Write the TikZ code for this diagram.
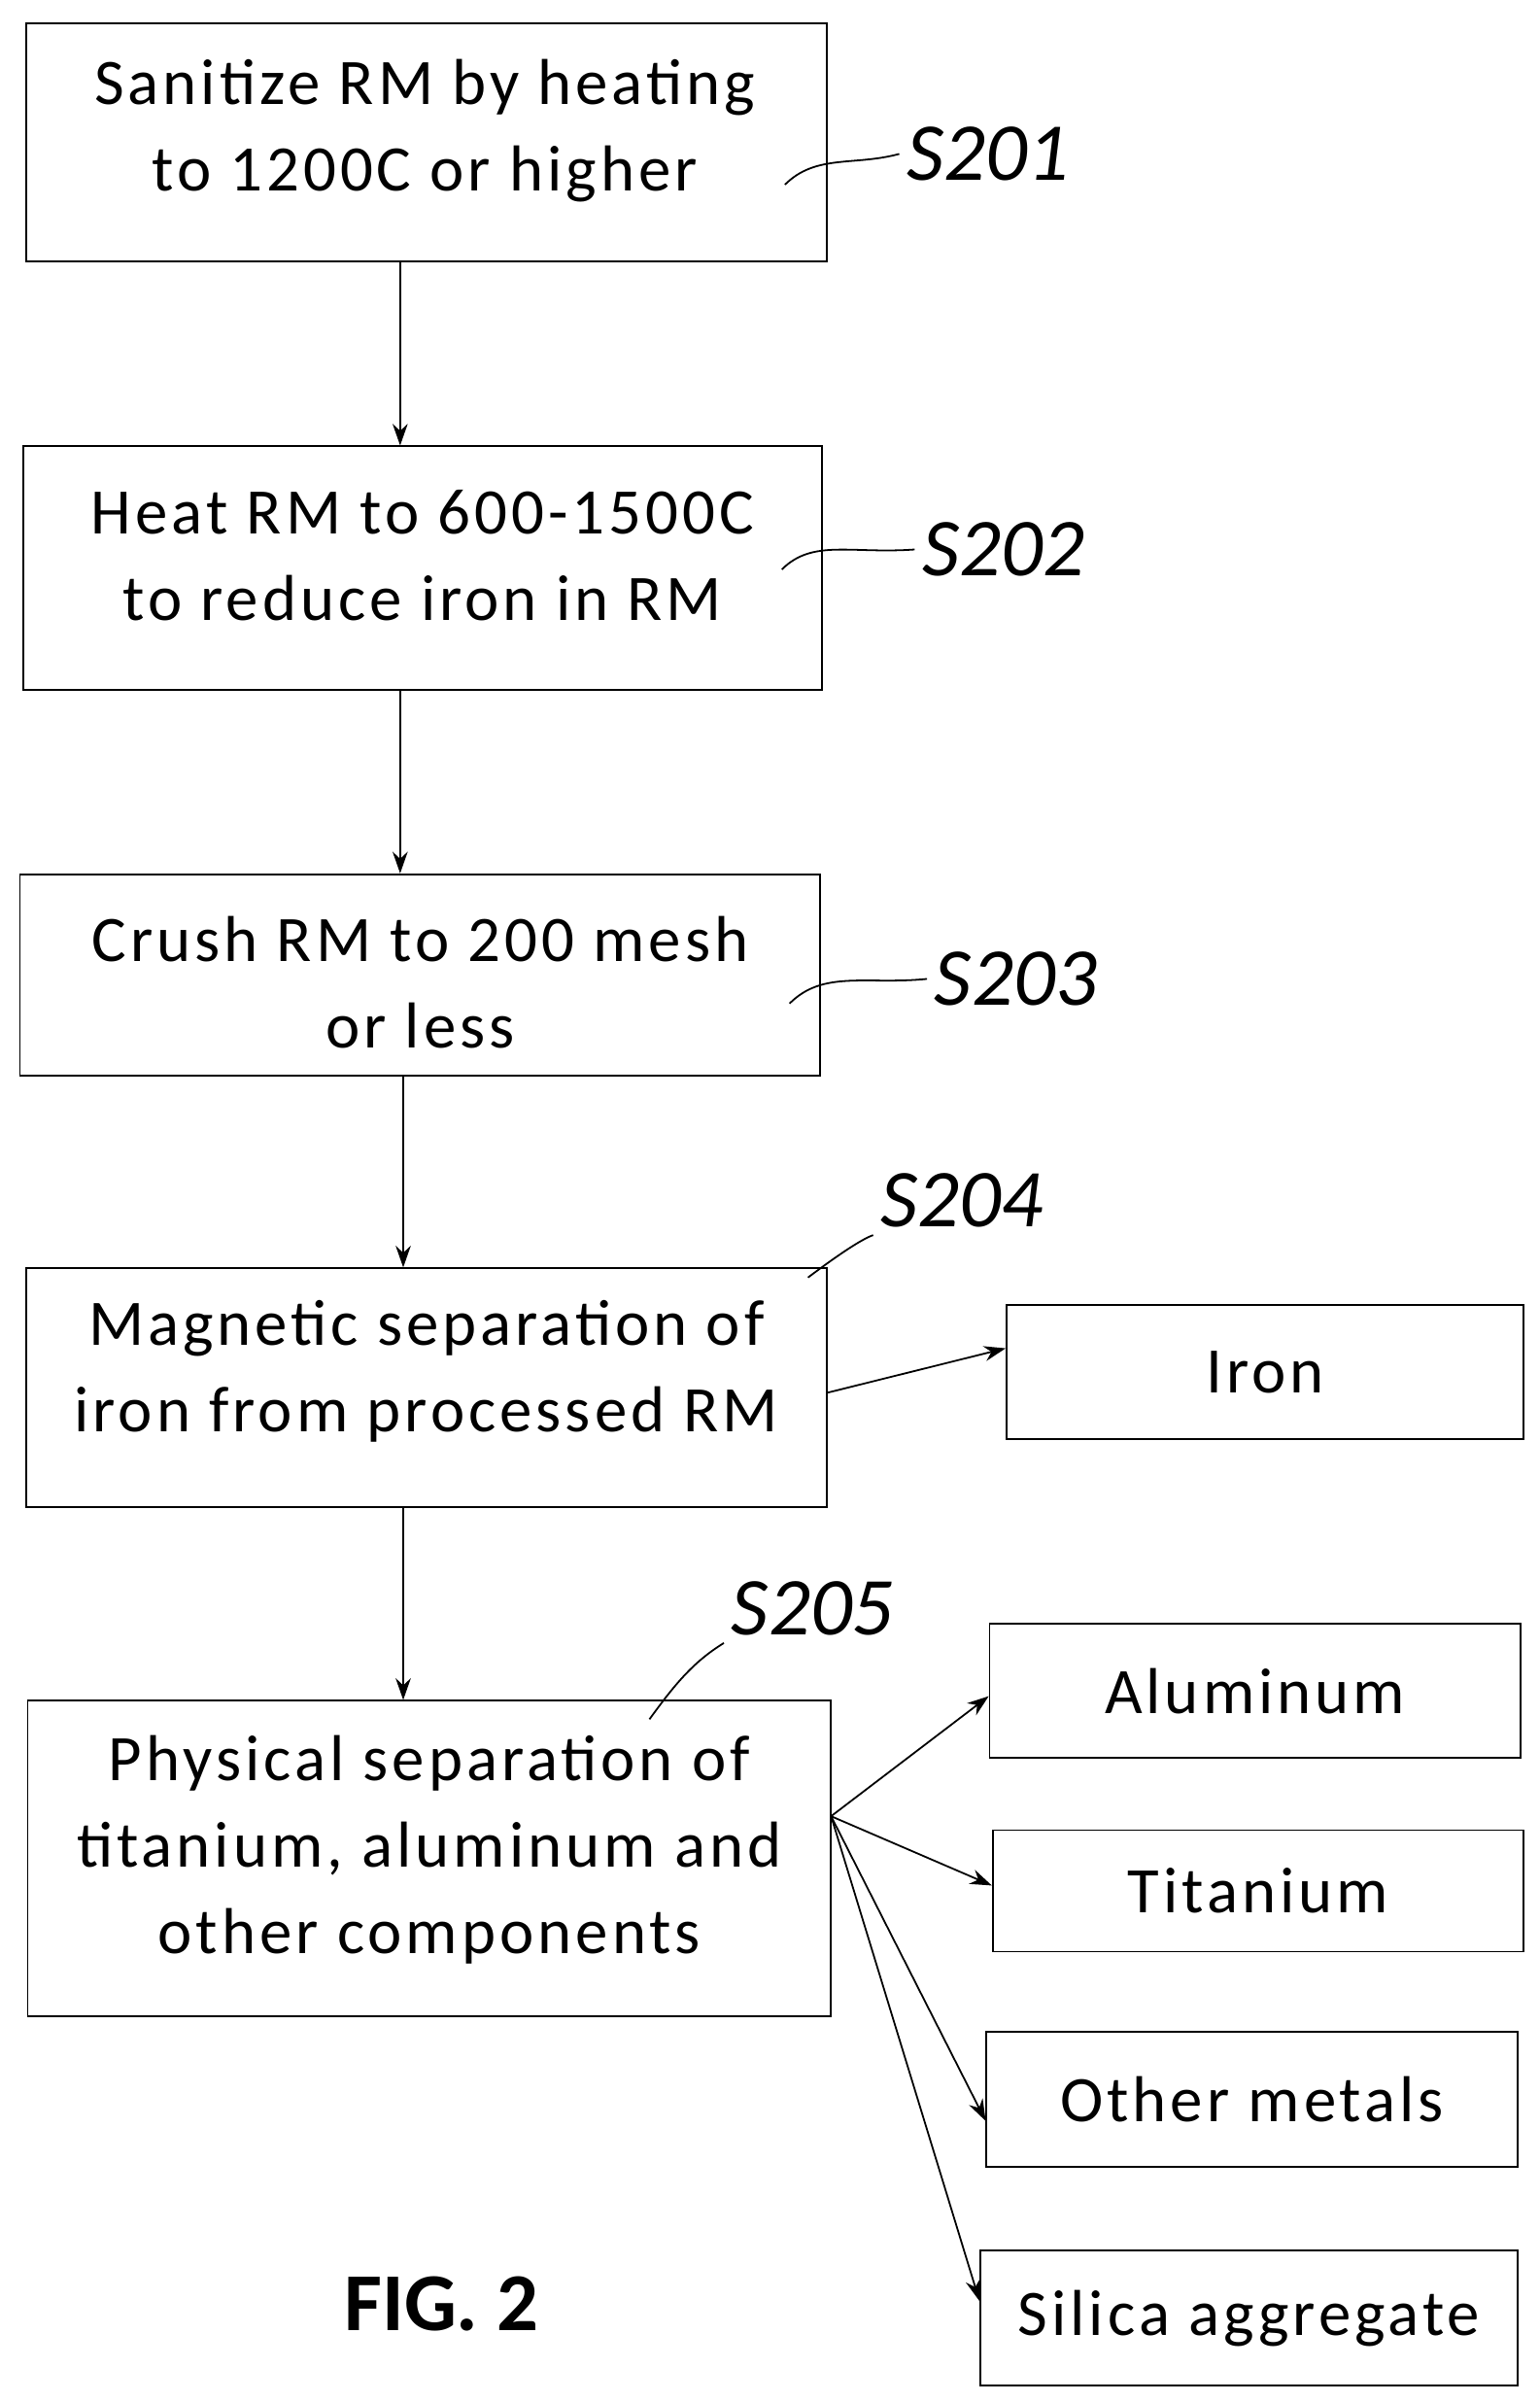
\documentclass[tikz,border=0pt]{standalone}
\usepackage{fontspec}
\setmainfont{Carlito}
\newfontfamily\spaced[LetterSpace=6]{Carlito}
\usetikzlibrary{arrows.meta}
\begin{document}
\begin{tikzpicture}[x=0.025cm,y=-0.025cm,
  box/.style={draw,line width=0.8pt,inner sep=0pt},
  txt/.style={font=\spaced\fontsize{30}{40}\selectfont,align=center},
  arr/.style={-{Stealth[length=10pt,width=7pt]},line width=0.8pt},
  hand/.style={font=\itshape\fontsize{38}{38}\selectfont},
  lead/.style={line width=0.8pt}]
\useasboundingbox (0,0) rectangle (1000,1560.6);
\fill[white] (0,0) rectangle (1000,1560.6);
\node[box,minimum width=520*0.025cm,minimum height=155*0.025cm] (b1) at (277,92.5) {};
\node[txt] at (276,85) {Sanitize RM by heating\\to 1200C or higher};
\node[box,minimum width=519*0.025cm,minimum height=158*0.025cm] (b2) at (274.5,369) {};
\node[txt] at (274.5,361) {Heat RM to 600-1500C\\to reduce iron in RM};
\node[box,minimum width=520*0.025cm,minimum height=131*0.025cm] (b3) at (273,633.5) {};
\node[txt] at (273,638) {Crush RM to 200 mesh\\or less};
\node[box,minimum width=520*0.025cm,minimum height=155*0.025cm] (b4) at (277,901.5) {};
\node[txt] at (277,891) {Magnetic separation of\\iron from processed RM};
\node[box,minimum width=522*0.025cm,minimum height=205*0.025cm] (b5) at (279,1207.5) {};
\node[txt] at (279,1202) {Physical separation of\\titanium, aluminum and\\other components};
\node[box,txt,minimum width=336*0.025cm,minimum height=87*0.025cm] (iron) at (822,891.5) {Iron};
\node[box,txt,minimum width=345*0.025cm,minimum height=87*0.025cm] (al) at (815.5,1098.5) {Aluminum};
\node[box,txt,minimum width=345*0.025cm,minimum height=79*0.025cm] (ti) at (817.5,1228.5) {Titanium};
\node[box,txt,minimum width=345*0.025cm,minimum height=88*0.025cm] (om) at (813.5,1364) {Other metals};
\node[box,txt,minimum width=349*0.025cm,minimum height=88*0.025cm] (si) at (811.5,1506) {Silica aggregate};
\node[font=\bfseries\fontsize{38}{40}\selectfont] (fig) at (287,1497) {FIG. 2};
\draw[arr] (b1.south -| 260,0) -- (b2.north -| 260,0);
\draw[arr] (b2.south -| 260,0) -- (b3.north -| 260,0);
\draw[arr] (b3.south -| 262,0) -- (b4.north -| 262,0);
\draw[arr] (b4.south -| 262,0) -- (b5.north -| 262,0);
\coordinate (o4) at (537,905);
\draw[arr] (o4) -- (iron.west |- 0,876);
\coordinate (o5) at (540,1180);
\draw[arr] (o5) -- (al.west |- 0,1102);
\draw[arr] (o5) -- (ti.west |- 0,1225);
\draw[arr] (o5) -- (om.west |- 0,1378);
\draw[arr] (o5) -- (si.west |- 0,1495);
\node[hand] (l1) at (642,100) {S201};
\draw[lead] (510,120) .. controls (530,100) and (555,108) .. (l1.west);
\node[hand] (l2) at (652,357) {S202};
\draw[lead] (508,370) .. controls (528,350) and (553,360) .. (l2.west);
\node[hand] (l3) at (660,636) {S203};
\draw[lead] (513,652) .. controls (535,630) and (563,640) .. (l3.west);
\node[hand] (l4) at (625,780) {S204};
\draw[lead] (525,830) .. controls (545,815) and (560,805) .. (l4.south west);
\node[hand] (l5) at (528,1045) {S205};
\draw[lead] (422,1117) .. controls (438,1095) and (450,1080) .. (l5.south west);
\end{tikzpicture}
\end{document}
